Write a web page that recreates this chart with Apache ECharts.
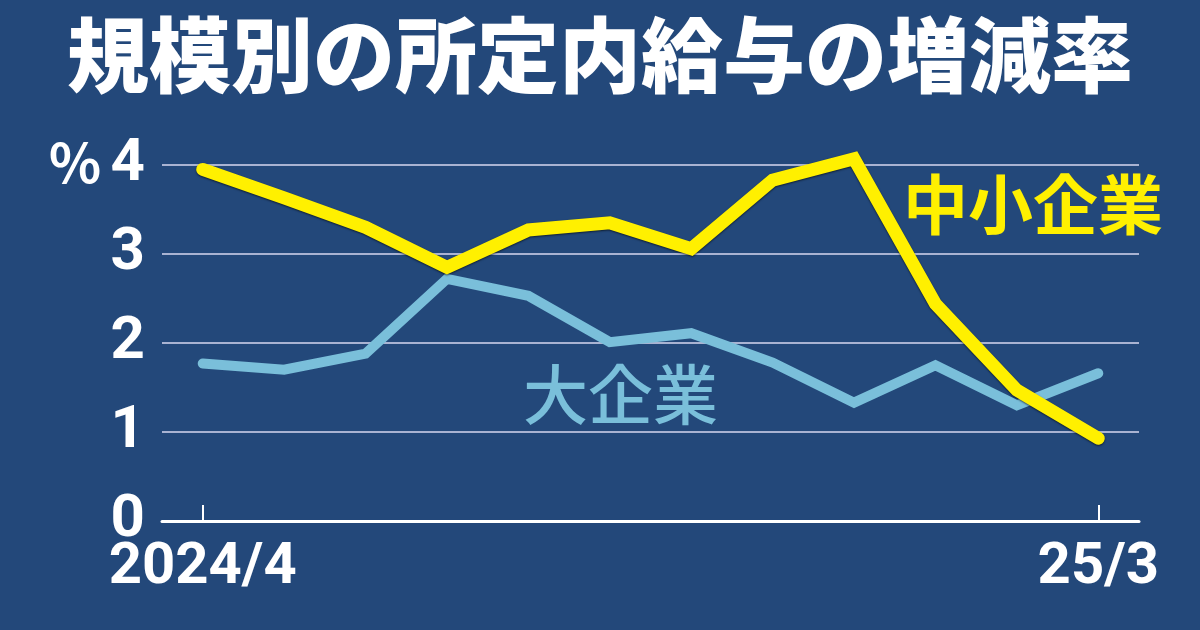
<!DOCTYPE html>
<html><head><meta charset="utf-8">
<script src="https://cdn.jsdelivr.net/npm/echarts@6/dist/echarts.min.js"></script>
<style>html,body{margin:0;padding:0;background:#23487a}#c{width:1200px;height:630px}</style>
</head><body><div id="c"></div>
<script>
const months = ['2024/4','5','6','7','8','9','10','11','12','1','2','25/3'];
const smallMid = [3.95, 3.63, 3.30, 2.85, 3.27, 3.35, 3.06, 3.83, 4.07, 2.44, 1.47, 0.93];
const large = [1.77, 1.70, 1.88, 2.72, 2.53, 2.01, 2.11, 1.78, 1.33, 1.75, 1.30, 1.66];
const yTicks = [0, 1, 2, 3, 4];
const shownX = [0, 11];

const chart = echarts.init(document.getElementById('c'));
const numFont = 'Roboto, "Liberation Sans", sans-serif';
const cjk = '"Noto Sans CJK JP", sans-serif';
chart.setOption({
  backgroundColor: '#23487a',
  animation: false,
  title: {
    text: '規模別の所定内給与の増減率',
    left: 'center', top: 9,
    textStyle: { color: '#ffffff', fontSize: 82, fontWeight: 900, fontFamily: cjk }
  },
  grid: { left: 162, right: 61, top: 165, bottom: 109 },
  xAxis: {
    type: 'category', data: months, boundaryGap: true,
    axisLine: { lineStyle: { color: '#ffffff', width: 3 } },
    axisTick: { show: true, inside: true, length: 16, alignWithLabel: true,
      interval: (i) => shownX.includes(i), lineStyle: { color: '#ffffff', width: 2 } },
    axisLabel: { interval: (i) => shownX.includes(i), color: '#ffffff', fontSize: 58,
      fontFamily: numFont, fontWeight: 'bold', margin: 18 },
    splitLine: { show: false }
  },
  yAxis: {
    type: 'value', min: 0, max: 4, interval: 1,
    axisLine: { show: false }, axisTick: { show: false },
    splitLine: { lineStyle: { color: '#a9b3d2', width: 2 } },
    axisLabel: {
      margin: 17, color: '#ffffff', fontFamily: numFont, fontSize: 60, fontWeight: 'bold',
      formatter: (v) => yTicks.includes(v) ? String(v) : ''
    }
  },
  series: [
    { name: '大企業', type: 'line', data: large, symbol: 'none', z: 2, clip: false,
      lineStyle: { color: '#7abfda', width: 10, cap: 'round', join: 'miter' } },
    { name: '中小企業', type: 'line', data: smallMid, symbol: 'none', z: 3, clip: false,
      lineStyle: { color: '#fff000', width: 13, cap: 'round', join: 'miter',
        shadowColor: 'rgba(0,0,0,0.6)', shadowBlur: 2, shadowOffsetY: 1 } }
  ],
  graphic: [
    { type: 'text', left: 48, top: 136, style: { text: '％', fill: '#ffffff',
      fontSize: 54, fontWeight: 'bold', fontFamily: cjk } },
    { type: 'text', left: 903, top: 172, style: { text: '中小企業', fill: '#fff000',
      fontSize: 65, fontWeight: 700, fontFamily: cjk } },
    { type: 'text', left: 523, top: 362, style: { text: '大企業', fill: '#7abfda',
      fontSize: 65, fontWeight: 500, fontFamily: cjk } }
  ]
});
</script></body></html>
